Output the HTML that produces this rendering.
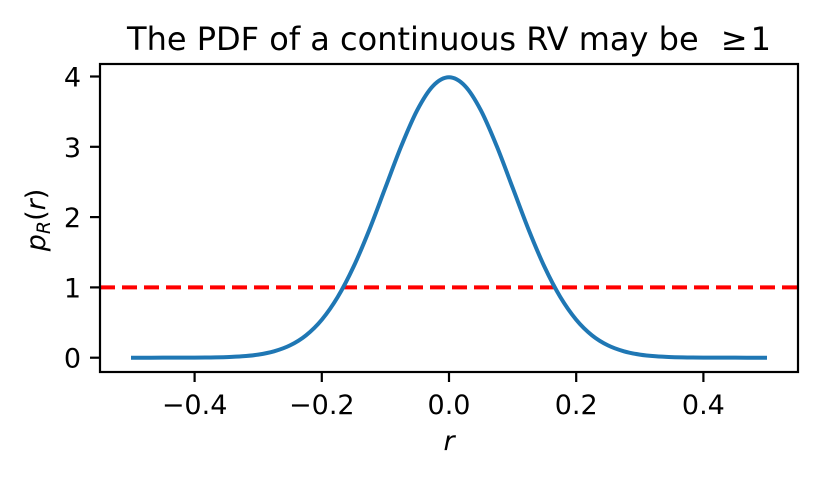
<!DOCTYPE html>
<html><head><meta charset="utf-8"><style>
html,body{margin:0;padding:0;background:#fff;}
svg{display:block;font-family:"DejaVu Sans","Liberation Sans",sans-serif;}
</style></head><body>
<svg id="chart" width="817" height="479" viewBox="0 0 817 479">
<text x="449" y="50" font-size="32" text-anchor="middle">The PDF of a continuous RV may be <tspan dx="12">≥</tspan><tspan dx="3">1</tspan></text>
<g id="plot"></g>
<text x="449" y="450" font-size="27" font-style="italic" text-anchor="middle">r</text>
<text transform="translate(45,220) rotate(-90)" font-size="27" font-style="italic" text-anchor="middle">p<tspan font-size="19" dy="5">R</tspan><tspan dy="-5" font-style="normal">(</tspan>r<tspan font-style="normal">)</tspan></text>
</svg>
<script>
const rValues = [-0.5,-0.45,-0.4,-0.375,-0.35,-0.325,-0.3,-0.275,-0.25,-0.225,-0.2,-0.175,-0.15,-0.125,-0.1,-0.075,-0.05,-0.025,0,0.025,0.05,0.075,0.1,0.125,0.15,0.175,0.2,0.225,0.25,0.275,0.3,0.325,0.35,0.375,0.4,0.45,0.5];
const pdfValues = [0,0.0002,0.0013,0.0035,0.0087,0.020,0.044,0.091,0.175,0.317,0.540,0.863,1.295,1.826,2.420,3.011,3.521,3.867,3.989,3.867,3.521,3.011,2.420,1.826,1.295,0.863,0.540,0.317,0.175,0.091,0.044,0.020,0.0087,0.0035,0.0013,0.0002,0];
const xTicks = [-0.4,-0.2,0.0,0.2,0.4];
const xTickLabels = ["−0.4","−0.2","0.0","0.2","0.4"];
const yTicks = [0,1,2,3,4];
const yTickLabels = ["0","1","2","3","4"];
const threshold = 1;

const ns="http://www.w3.org/2000/svg";
const g=document.getElementById('plot');
const L=100,R=798,T=64,B=372;
const xs=v=>449+v*636;
const ys=v=>357.7-v*70.3;
function mk(tag,attrs){const e=document.createElementNS(ns,tag);for(const k in attrs)e.setAttribute(k,attrs[k]);g.appendChild(e);return e;}

const th=mk('line',{x1:L,x2:R,y1:ys(threshold),y2:ys(threshold),stroke:'#ff0000','stroke-width':4,'stroke-dasharray':'15,7'});



const pts=rValues.map((r,i)=>[xs(r),ys(pdfValues[i])]);
let d='M'+pts[0][0]+','+pts[0][1];
for(let i=0;i<pts.length-1;i++){
  const p0=pts[Math.max(0,i-1)],p1=pts[i],p2=pts[i+1],p3=pts[Math.min(pts.length-1,i+2)];
  const c1=[p1[0]+(p2[0]-p0[0])/6,p1[1]+(p2[1]-p0[1])/6];
  const c2=[p2[0]-(p3[0]-p1[0])/6,p2[1]-(p3[1]-p1[1])/6];
  d+=` C${c1[0]},${c1[1]} ${c2[0]},${c2[1]} ${p2[0]},${p2[1]}`;
}
const curve=mk('path',{d:d,fill:'none',stroke:'#1f77b4','stroke-width':4,'stroke-linejoin':'round'});



const fr=mk('rect',{x:L,y:T,width:R-L,height:B-T,fill:'none',stroke:'#000','stroke-width':2.2});



xTicks.forEach((v,i)=>{
  const t=mk('line',{x1:xs(v),x2:xs(v),y1:B,y2:B+10,stroke:'#000','stroke-width':2.2});
  
  
  const l=mk('text',{x:xs(v),y:B+42,'font-size':27,'text-anchor':'middle'});
  l.textContent=xTickLabels[i];
  
  
});
yTicks.forEach((v,i)=>{
  const t=mk('line',{x1:L-10,x2:L,y1:ys(v),y2:ys(v),stroke:'#000','stroke-width':2.2});
  
  
  const l=mk('text',{x:L-19,y:ys(v)+10,'font-size':27,'text-anchor':'end'});
  l.textContent=yTickLabels[i];
  
  
});
</script>
</body></html>
